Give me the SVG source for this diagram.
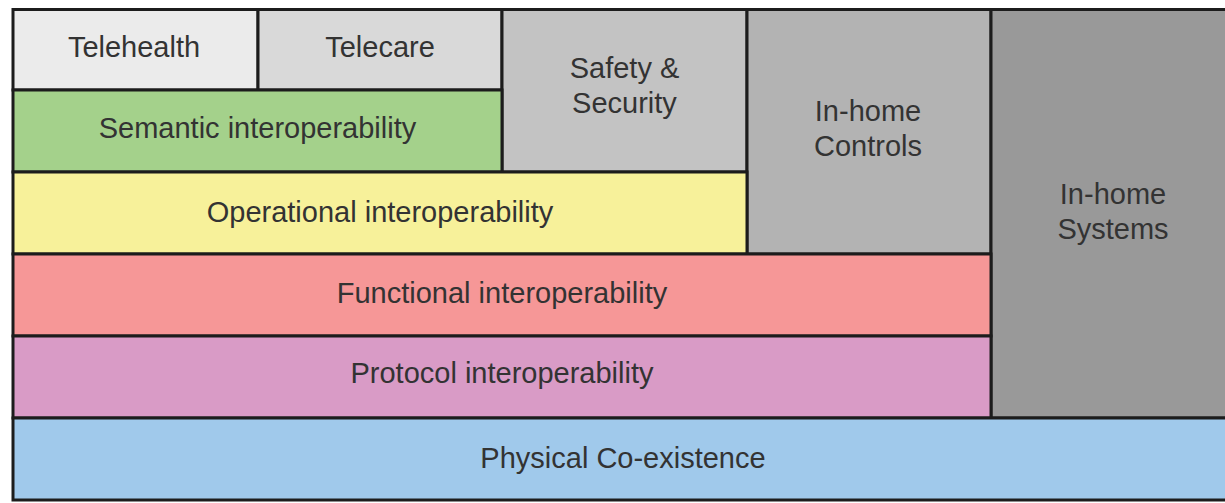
<svg xmlns="http://www.w3.org/2000/svg" width="1225" height="503" viewBox="0 0 1225 503">
<style>
  rect.box { stroke: #1c1c1c; stroke-width: 3; }
  text { font-family: "Liberation Sans", Arial, sans-serif; font-size: 29px; fill: #333333; text-anchor: middle; }
</style>
<rect x="0" y="0" width="1225" height="503" fill="#ffffff"/>
<g id="nodes">
  <g id="telehealth">
    <rect class="box" x="13" y="9.5" width="245" height="80.5" fill="#ebebeb"/>
    <text x="134" y="57">Telehealth</text>
  </g>
  <g id="telecare">
    <rect class="box" x="258" y="9.5" width="244" height="80.5" fill="#d9d9d9"/>
    <text x="380" y="57">Telecare</text>
  </g>
  <g id="safety-security">
    <rect class="box" x="502" y="9.5" width="245" height="162.5" fill="#c3c3c3"/>
    <text x="624.5" y="78">Safety &amp;</text>
    <text x="624.5" y="113">Security</text>
  </g>
  <g id="in-home-controls">
    <rect class="box" x="747" y="9.5" width="244" height="244.5" fill="#b3b3b3"/>
    <text x="868" y="121">In-home</text>
    <text x="868" y="156">Controls</text>
  </g>
  <g id="in-home-systems">
    <rect class="box" x="991" y="9.5" width="250" height="408.5" fill="#999999"/>
    <text x="1113" y="204">In-home</text>
    <text x="1113" y="239">Systems</text>
  </g>
  <g id="semantic">
    <rect class="box" x="13" y="90" width="489" height="82" fill="#a4d18b"/>
    <text x="257.5" y="138">Semantic interoperability</text>
  </g>
  <g id="operational">
    <rect class="box" x="13" y="172" width="734" height="82" fill="#f7f19a"/>
    <text x="380" y="222">Operational interoperability</text>
  </g>
  <g id="functional">
    <rect class="box" x="13" y="254" width="978" height="82" fill="#f69797"/>
    <text x="502" y="303">Functional interoperability</text>
  </g>
  <g id="protocol">
    <rect class="box" x="13" y="336" width="978" height="82" fill="#d99bc6"/>
    <text x="502" y="383">Protocol interoperability</text>
  </g>
  <g id="physical">
    <rect class="box" x="13" y="418" width="1230" height="82" fill="#a0c9eb"/>
    <text x="623" y="468">Physical Co-existence</text>
  </g>
</g>
<g id="connectors"></g>
</svg>
